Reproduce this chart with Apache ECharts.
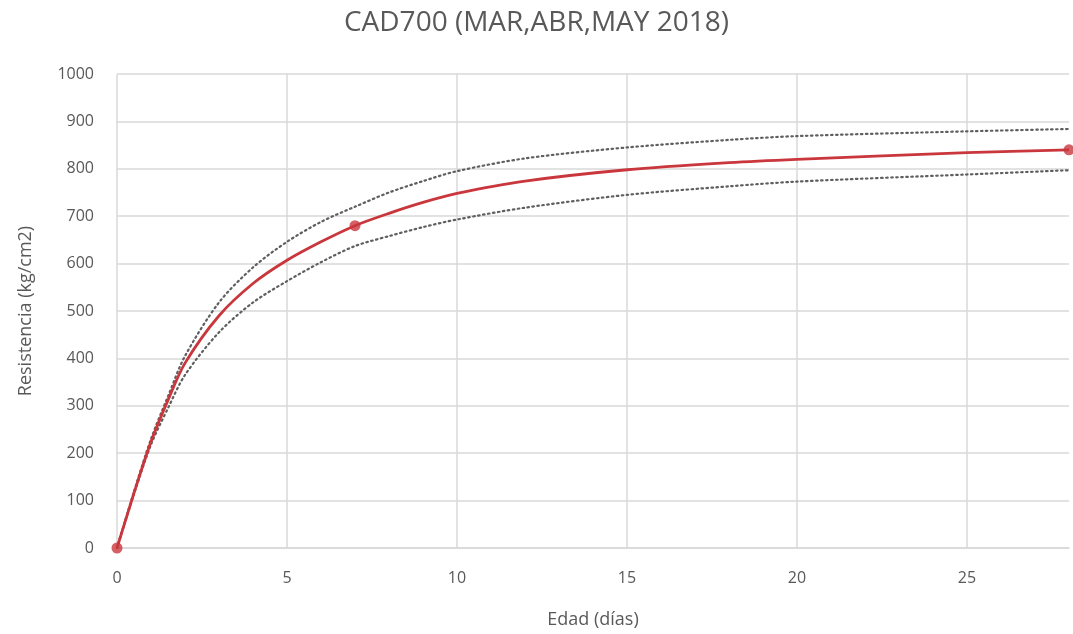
<!DOCTYPE html>
<html>
<head>
<meta charset="utf-8">
<title>CAD700</title>
<script src="https://cdn.jsdelivr.net/npm/echarts@6/dist/echarts.min.js"></script>
<style>
  html, body { margin: 0; padding: 0; background: #ffffff; }
  #chart { width: 1073px; height: 634px; }
</style>
</head>
<body>
<div id="chart"></div>
<script>
// Concrete strength development, CAD700 mix
const chartTitle = 'CAD700 (MAR,ABR,MAY 2018)';
const xName = 'Edad (días)';
const yName = 'Resistencia (kg/cm2)';

// Ages (days) at which the fitted curves are sampled
const ages = [0, 0.5, 1, 1.5, 2, 3, 4, 5, 6, 7, 8, 9, 10, 12, 15, 18, 20, 25, 28];
// Fitted mean strength curve (kg/cm2)
const meanCurve = [0, 116, 224, 312, 390, 490, 558, 607, 646, 680, 706, 729, 748, 774, 798, 813, 820, 834, 840];
// Upper band
const upperCurve = [0, 119, 230, 320, 405, 518, 592, 646, 688, 720, 750, 774, 795, 822, 845, 861, 869, 879, 884];
// Lower band
const lowerCurve = [0, 114, 218, 295, 365, 455, 518, 563, 603, 637, 658, 677, 693, 718, 745, 763, 773, 788, 797];

// Measured results
const testAges = [0, 7, 28];
const testStrength = [0, 680, 840];

const xTicks = { min: 0, max: 28, interval: 5 };
const yTicks = { min: 0, max: 1000, interval: 100 };

const pair = (xs, ys) => xs.map((x, i) => [x, ys[i]]);

const textColor = '#595959';
const gridColor = '#d9d9d9';
const red = '#c9373d';
const dotColor = '#5f5f5f';
const font = 'Open Sans';

const chart = echarts.init(document.getElementById('chart'), null, { renderer: 'canvas' });

chart.setOption({
  backgroundColor: '#ffffff',
  animation: false,
  title: {
    text: chartTitle,
    left: 'center',
    top: 4,
    textStyle: { fontFamily: font, fontSize: 28, fontWeight: 'normal', color: textColor }
  },
  grid: { left: 117, right: 4, top: 74, bottom: 86, containLabel: false },
  xAxis: {
    type: 'value',
    min: xTicks.min,
    max: xTicks.max,
    interval: xTicks.interval,
    name: xName,
    nameLocation: 'middle',
    nameGap: 63,
    nameTextStyle: { fontFamily: font, fontSize: 18, color: textColor },
    axisLine: { show: true, lineStyle: { color: gridColor, width: 1.5 } },
    axisTick: { show: false },
    axisLabel: {
      fontFamily: font, fontSize: 16, color: textColor, margin: 22,
      showMaxLabel: false
    },
    splitLine: { show: true, showMaxLine: false, lineStyle: { color: gridColor, width: 1.5 } }
  },
  yAxis: {
    type: 'value',
    min: yTicks.min,
    max: yTicks.max,
    interval: yTicks.interval,
    name: yName,
    nameLocation: 'middle',
    nameGap: 82,
    nameRotate: 90,
    nameTextStyle: { fontFamily: font, fontSize: 18, color: textColor },
    axisLine: { show: false },
    axisTick: { show: false },
    axisLabel: {
      fontFamily: font, fontSize: 16, color: textColor, margin: 23,
      formatter: (v) => String(v)
    },
    splitLine: { show: true, lineStyle: { color: gridColor, width: 1.5 } }
  },
  series: [
    {
      name: 'Superior',
      type: 'line',
      data: pair(ages, upperCurve),
      smooth: 0.3,
      showSymbol: false,
      lineStyle: { color: dotColor, width: 2.2, type: [1.5, 3.5], cap: 'round' },
      z: 2
    },
    {
      name: 'Inferior',
      type: 'line',
      data: pair(ages, lowerCurve),
      smooth: 0.3,
      showSymbol: false,
      lineStyle: { color: dotColor, width: 2.2, type: [1.5, 3.5], cap: 'round' },
      z: 2
    },
    {
      name: 'Media',
      type: 'line',
      data: pair(ages, meanCurve),
      smooth: 0.3,
      showSymbol: false,
      lineStyle: { color: red, width: 2.8 },
      z: 3
    },
    {
      name: 'Ensayos',
      type: 'scatter',
      data: pair(testAges, testStrength),
      symbol: 'circle',
      symbolSize: 11,
      itemStyle: { color: red },
      clip: false,
      z: 4
    }
  ]
});
</script>
</body>
</html>
